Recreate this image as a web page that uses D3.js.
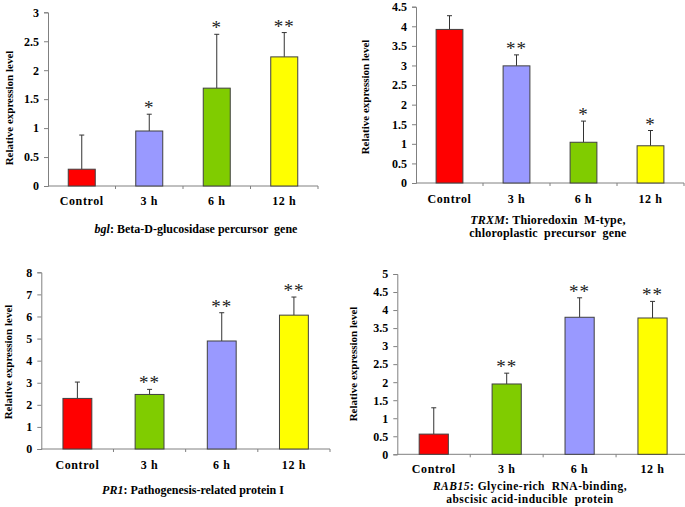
<!DOCTYPE html>
<html><head><meta charset="utf-8">
<script src="https://cdn.jsdelivr.net/npm/d3@7"></script>
<style>body{margin:0;background:#fff}svg{display:block}text{font-family:"Liberation Serif","Times New Roman",serif}</style>
</head><body>
<script>
const categories = ["Control", "3 h", "6 h", "12 h"];

const bglValues = [0.29, 0.95, 1.69, 2.23];
const bglErrors = [0.59, 0.29, 0.93, 0.42];
const bglStars  = ["", "*", "*", "**"];
const bglColors = ["#FF0000", "#9999FF", "#80CC00", "#FFFF00"];
const bglTicks  = [0, 0.5, 1, 1.5, 2, 2.5, 3];

const trxmValues = [3.92, 2.99, 1.04, 0.95];
const trxmErrors = [0.35, 0.28, 0.54, 0.39];
const trxmStars  = ["", "**", "*", "*"];
const trxmColors = ["#FF0000", "#9999FF", "#80CC00", "#FFFF00"];
const trxmTicks  = [0, 0.5, 1, 1.5, 2, 2.5, 3, 3.5, 4, 4.5];

const pr1Values = [2.29, 2.47, 4.89, 6.06];
const pr1Errors = [0.74, 0.23, 1.28, 0.82];
const pr1Stars  = ["", "**", "**", "**"];
const pr1Colors = ["#FF0000", "#80CC00", "#9999FF", "#FFFF00"];
const pr1Ticks  = [0, 1, 2, 3, 4, 5, 6, 7, 8];

const rabValues = [0.56, 1.95, 3.80, 3.78];
const rabErrors = [0.73, 0.30, 0.54, 0.46];
const rabStars  = ["", "**", "**", "**"];
const rabColors = ["#FF0000", "#80CC00", "#9999FF", "#FFFF00"];
const rabTicks  = [0, 0.5, 1, 1.5, 2, 2.5, 3, 3.5, 4, 4.5, 5];

const yTitle = "Relative expression level";

const panels = [
  {values: bglValues, errors: bglErrors, stars: bglStars, colors: bglColors, ticks: bglTicks,
   caption: [[["bgl", true], [": Beta-D-glucosidase percursor  gene", false]]], capSize: 12, capLS: 0,
   x0: 48, x1: 318, yb: 186, yt: 12.3, capX: 196, capY: [233], labY: 205, titleX: 9, titleY: 108},
  {values: trxmValues, errors: trxmErrors, stars: trxmStars, colors: trxmColors, ticks: trxmTicks,
   caption: [[["TRXM", true], [": Thioredoxin  M-type,", false]], [["chloroplastic  precursor  gene", false]]], capSize: 12, capLS: 0.2,
   x0: 416, x1: 684, yb: 183, yt: 6.7, capX: 548, capY: [224, 237], labY: 203, titleX: 365, titleY: 97},
  {values: pr1Values, errors: pr1Errors, stars: pr1Stars, colors: pr1Colors, ticks: pr1Ticks,
   caption: [[["PR1", true], [": Pathogenesis-related protein I", false]]], capSize: 12, capLS: 0,
   x0: 41.3, x1: 330, yb: 449, yt: 272.3, capX: 193, capY: [494], labY: 469, titleX: 8, titleY: 362},
  {values: rabValues, errors: rabErrors, stars: rabStars, colors: rabColors, ticks: rabTicks,
   caption: [[["RAB15", true], [": Glycine-rich  RNA-binding,", false]], [["abscisic acid-inducible  protein", false]]], capSize: 11.5, capLS: 0.5,
   x0: 397.3, x1: 689, yb: 454.3, yt: 274, capX: 530, capY: [490, 503], labY: 473, titleX: 353, titleY: 364}
];

const svg = d3.select("body").append("svg").attr("width", 685).attr("height", 507);

panels.forEach(p => {
  const g = svg.append("g");
  const x = d3.scaleBand().domain(categories).range([p.x0, p.x1]).paddingInner(0.6).paddingOuter(0.3);
  const y = d3.scaleLinear().domain([0, d3.max(p.ticks)]).range([p.yb, p.yt]);

  // y axis
  const ya = g.append("g").attr("transform", `translate(${p.x0},0)`)
    .call(d3.axisLeft(y).tickValues(p.ticks).tickSize(4).tickPadding(5).tickFormat(d3.format("")));
  ya.select(".domain").attr("stroke", "#808080");
  ya.selectAll(".tick line").attr("stroke", "#808080");
  ya.selectAll(".tick text").attr("font-size", 12).attr("font-weight", "bold").attr("fill", "#000")
    .attr("font-family", "'Liberation Serif', serif");

  // x axis line
  g.append("line").attr("x1", p.x0).attr("x2", p.x1).attr("y1", p.yb).attr("y2", p.yb)
    .attr("stroke", "#808080");
  const step = x.step();
  const bounds = d3.range(1, categories.length + 1).map(i => p.x0 + i * step);
  g.selectAll(".bt").data(bounds).enter().append("line")
    .attr("x1", d => d).attr("x2", d => d).attr("y1", p.yb).attr("y2", p.yb + 3)
    .attr("stroke", "#808080");

  // category labels
  g.selectAll(".cl").data(categories).enter().append("text")
    .attr("x", d => x(d) + x.bandwidth() / 2).attr("y", p.labY)
    .attr("text-anchor", "middle").attr("font-size", 12).attr("font-weight", "bold")
    .attr("letter-spacing", 0.6).text(d => d);

  // error bars
  categories.forEach((c, i) => {
    const cx = x(c) + x.bandwidth() / 2;
    const top = y(p.values[i] + p.errors[i]);
    g.append("line").attr("x1", cx).attr("x2", cx).attr("y1", y(p.values[i])).attr("y2", top)
      .attr("stroke", "#333").attr("stroke-width", 1);
    g.append("line").attr("x1", cx - 2.5).attr("x2", cx + 2.5).attr("y1", top).attr("y2", top)
      .attr("stroke", "#333").attr("stroke-width", 1);
    if (p.stars[i]) {
      g.append("text").attr("x", cx).attr("y", top)
        .attr("text-anchor", "middle").attr("font-size", 19).attr("letter-spacing", 1)
        .attr("fill", "#222").text(p.stars[i]);
    }
  });

  // bars
  g.selectAll(".bar").data(categories).enter().append("rect")
    .attr("x", d => x(d)).attr("width", x.bandwidth())
    .attr("y", (d, i) => y(p.values[i])).attr("height", (d, i) => p.yb - y(p.values[i]))
    .attr("fill", (d, i) => p.colors[i]).attr("stroke", "#404040").attr("stroke-width", 1);

  // y title
  g.append("text").attr("transform", `translate(${p.titleX},${p.titleY}) rotate(-90)`)
    .attr("text-anchor", "middle").attr("dominant-baseline", "central")
    .attr("font-size", 11).attr("font-weight", "bold").text(yTitle);

  // caption
  p.caption.forEach((line, li) => {
    const t = g.append("text").attr("x", p.capX).attr("y", p.capY[li])
      .attr("text-anchor", "middle").attr("font-size", p.capSize).attr("font-weight", "bold")
      .attr("letter-spacing", p.capLS)
      .attr("xml:space", "preserve").style("white-space", "pre");
    line.forEach(([s, it]) => t.append("tspan").attr("font-style", it ? "italic" : "normal").text(s));
  });
});
</script>
</body></html>
